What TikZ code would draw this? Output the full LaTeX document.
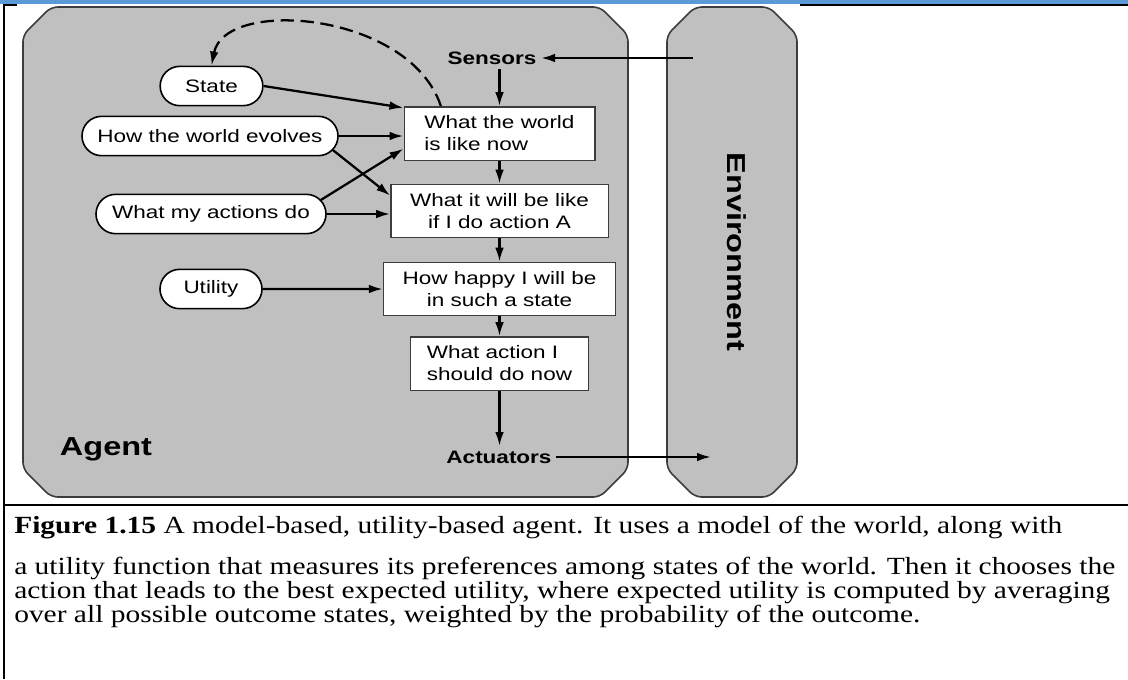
\documentclass[tikz,border=0pt]{standalone}
\usepackage{fontspec}
\setmainfont{Liberation Serif}[FakeStretch=1.195]
\setsansfont{Liberation Sans}[FakeStretch=1.25]
\usetikzlibrary{shapes.misc, arrows.meta}
\definecolor{banner}{RGB}{91,155,213}
\definecolor{panel}{RGB}{192,192,192}
\definecolor{rim}{RGB}{60,60,60}
\tikzstyle{container}=[fill=panel, draw=rim, line width=1.2pt, rounded corners=5pt]
\tikzstyle{box}=[fill=white, draw=rim, line width=1pt, minimum height=40pt, inner sep=0pt, font=\sffamily\fontsize{13.5}{16.5}\selectfont]
\tikzstyle{oval}=[rounded rectangle, fill=white, draw, line width=1.2pt, minimum height=29.5pt, inner sep=0pt, font=\sffamily\fontsize{13.5}{16.5}\selectfont]
\tikzstyle{io}=[font=\sffamily\bfseries\fontsize{13.5}{16.5}\selectfont]
\tikzstyle{bigname}=[font=\sffamily\bfseries\fontsize{19.5}{22}\selectfont]
\tikzstyle{link}=[line width=1.7pt, -{Latex[length=10.5pt, width=6.5pt]}]
\tikzstyle{feedback}=[link, dash pattern=on 10pt off 5pt]

\begin{document}
\begin{tikzpicture}[x=0.75pt, y=-0.75pt]
    \useasboundingbox (0,0) rectangle (1128,679);
    \fill [banner] (0,0) rectangle (1128,4);
    \draw [line width=1.5pt] (4,4) -- (4,679);
    \draw [line width=1.5pt] (4,5) -- (17,5);
    \draw [line width=1.5pt] (800,5) -- (1128,5);
    \draw [line width=1.5pt] (4,505) -- (1128,505);
    \draw [container] (23,35) -- (51,7) -- (600,7) -- (628,35) -- (628,469) -- (600,497) -- (51,497) -- (23,469) -- cycle;
    \draw [container] (667,35) -- (695,7) -- (769,7) -- (797,35) -- (797,469) -- (769,497) -- (695,497) -- (667,469) -- cycle;
    \node [bigname, anchor=base] (agent) at (106,455) {Agent};
    \node [bigname, rotate=-90] (env) at (737,252) {Environment};
    \coordinate (envin) at (693,58);
    \coordinate (envout) at (711,457);
    \node [io] (sensors) at (492,58) {Sensors};
    \node [io] (actuators) at (499,457) {Actuators};
    \node [box, minimum width=143pt, align=left] (world) at (499.5,133.5) {What the world\\is like now};
    \node [box, minimum width=163pt, align=center] (future) at (499.5,211) {What it will be like\\if I do action A};
    \node [box, minimum width=174pt, align=center] (happy) at (499.5,289) {How happy I will be\\in such a state};
    \node [box, minimum width=133.5pt, align=left] (choice) at (499.5,363.5) {What action I\\should do now};
    \node [oval, minimum width=77pt] (state) at (211.5,86) {State};
    \node [oval, minimum width=192pt] (evolves) at (210,136) {How the world evolves};
    \node [oval, minimum width=172.5pt] (effects) at (211,214) {What my actions do};
    \node [oval, minimum width=76.5pt] (utility) at (211,289) {Utility};
    \draw [link] (envin) -- (sensors.east);
    \draw [link] (sensors.south -| world.north) -- (world.north);
    \draw [link] (world) -- (future);
    \draw [link] (future) -- (happy);
    \draw [link] (happy) -- (choice);
    \draw [link] (choice.south) -- (choice.south |- actuators.north);
    \draw [link] (actuators.east) -- (envout);
    \draw [link] (state.east) -- (world.165);
    \draw [link] (evolves.east) -- (evolves.east -| world.west);
    \draw [link] ([xshift=-4.5pt, yshift=-10.5pt]evolves.east) -- (future.172);
    \draw [link] ([xshift=-4.5pt, yshift=10.5pt]effects.east) -- (world.189);
    \draw [link] (effects.east) -- (effects.east -| future.west);
    \draw [link] (utility) -- (happy);
    \draw [feedback] (world.155) .. controls (410,12) and (225,-3) .. (state.north);
    \node [anchor=north west, align=left, inner sep=0pt, font=\fontsize{18.5}{18}\selectfont] (caption) at (14,516)
        {\textbf{Figure 1.15} A model-based, utility-based agent. It uses a model of the world, along with\\[12.75pt]
        a utility function that measures its preferences among states of the world. Then it chooses the\\
        action that leads to the best expected utility, where expected utility is computed by averaging\\
        over all possible outcome states, weighted by the probability of the outcome.};
\end{tikzpicture}
\end{document}
